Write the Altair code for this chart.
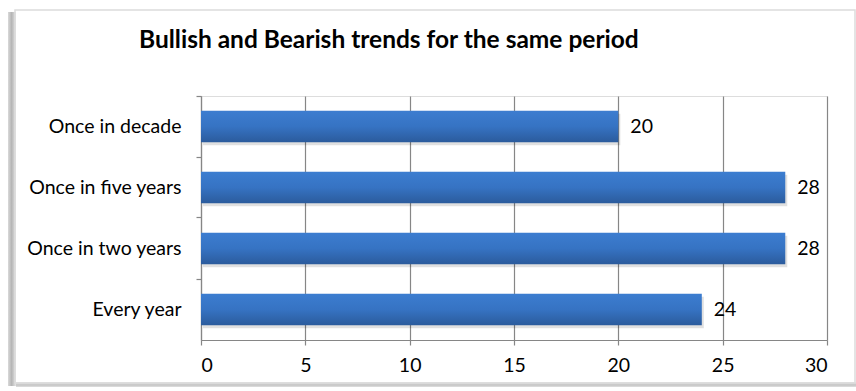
import altair as alt
import pandas as pd

# Survey answers: how often bullish and bearish trends show up in the same period
categories = ["Once in decade", "Once in five years", "Once in two years", "Every year"]
counts = [20, 28, 28, 24]

df = pd.DataFrame({"period": categories, "count": counts})

FONT = "Lato"
LABEL_SIZE = 19.5
W, H = 626, 244
PAD_INNER, PAD_OUTER = 0.48, 0.24

# category ticks sit on the step boundaries, halfway through the gap between bars
step = H / (len(categories) - PAD_INNER + 2 * PAD_OUTER)
band = step * (1 - PAD_INNER)
tick_pos = -(step * PAD_INNER / 2) / band

y_enc = alt.Y(
    "period:N",
    sort=categories,
    title=None,
    scale=alt.Scale(paddingInner=PAD_INNER, paddingOuter=PAD_OUTER),
    axis=alt.Axis(
        bandPosition=tick_pos,
        tickSize=5,
        labelPadding=15,
        labelFontSize=LABEL_SIZE,
        labelFont=FONT,
        labelColor="#000000",
        domainColor="#868686",
        domainWidth=1.2,
        tickColor="#868686",
        tickWidth=1.2,
        grid=False,
    ),
)
x_enc = alt.X(
    "count:Q",
    title=None,
    scale=alt.Scale(domain=[0, 30], nice=False),
    axis=alt.Axis(
        values=[0, 5, 10, 15, 20, 25, 30],
        tickSize=5,
        labelPadding=11,
        labelFontSize=LABEL_SIZE,
        labelFont=FONT,
        labelColor="#000000",
        domainColor="#868686",
        domainWidth=1.2,
        tickColor="#868686",
        tickWidth=1.2,
        grid=True,
        gridColor="#868686",
        gridWidth=1.2,
    ),
)

base = alt.Chart(df)
first_row = alt.datum.period == categories[0]

# outer chart frame: thin grey border, shaded strip on the left and along the bottom
left_shade = base.mark_rect(
    color=alt.Gradient(
        gradient="linear", x1=0, x2=1, y1=0, y2=0,
        stops=[
            alt.GradientStop(color="#DADADA", offset=0),
            alt.GradientStop(color="#B5B5B5", offset=0.45),
            alt.GradientStop(color="#E6E6E6", offset=1),
        ],
    )
).encode(
    x=alt.value(-193), x2=alt.value(-185), y=alt.value(-84), y2=alt.value(290)
).transform_filter(first_row)
bottom_shade = base.mark_rect(
    color=alt.Gradient(
        gradient="linear", x1=0, x2=0, y1=0, y2=1,
        stops=[
            alt.GradientStop(color="#E8E8E8", offset=0),
            alt.GradientStop(color="#C4C4C4", offset=0.6),
            alt.GradientStop(color="#E0E0E0", offset=1),
        ],
    )
).encode(
    x=alt.value(-185), x2=alt.value(655), y=alt.value(286), y2=alt.value(291)
).transform_filter(first_row)
frame = base.mark_rect(fill="transparent", stroke="#DCDCDC", strokeWidth=1.5).encode(
    x=alt.value(-186), x2=alt.value(654), y=alt.value(-86), y2=alt.value(287)
).transform_filter(first_row)

bar_shadow = base.mark_bar(color="#000000", opacity=0.12, yOffset=3, xOffset=2).encode(
    x=x_enc, y=y_enc
)

bars = base.mark_bar(
    color=alt.Gradient(
        gradient="linear",
        x1=0, x2=0, y1=0, y2=1,
        stops=[
            alt.GradientStop(color="#3C7DD0", offset=0),
            alt.GradientStop(color="#3673C3", offset=0.5),
            alt.GradientStop(color="#2B5B9C", offset=1),
        ],
    )
).encode(x=x_enc, y=y_enc)

labels = base.mark_text(
    align="left", baseline="middle", dx=12, fontSize=LABEL_SIZE, font=FONT, color="#000000"
).encode(x=x_enc, y=y_enc, text="count:Q")

chart = (
    alt.layer(left_shade, bottom_shade, frame, bar_shadow, bars, labels)
    .properties(
        width=W,
        height=H,
        autosize=alt.AutoSizeParams(type="none"),
        padding={"left": 201, "top": 96, "right": 29, "bottom": 51},
        title=alt.Title(
            "Bullish and Bearish trends for the same period",
            anchor="start",
            frame="group",
            dx=-62,
            offset=-44,
            fontSize=24.5,
            font=FONT,
            fontWeight="bold",
            color="#000000",
        ),
    )
    .configure_view(stroke=None)
    .configure(background="#FFFFFF")
)

chart.save("out.html", embed_options={"renderer": "svg", "actions": False})
